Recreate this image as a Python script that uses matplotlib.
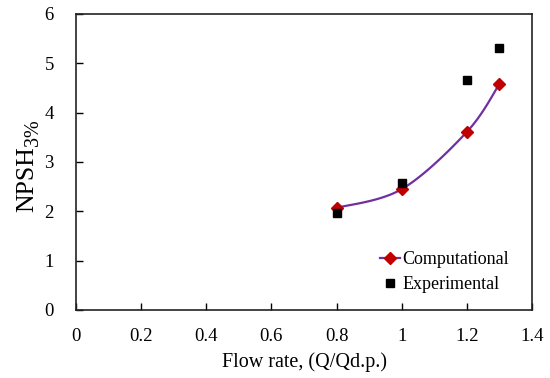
import numpy as np
import matplotlib
matplotlib.use("Agg")
import matplotlib.pyplot as plt
from matplotlib.lines import Line2D

plt.rcParams['font.family'] = ['Liberation Serif', 'DejaVu Serif']

flow_comp = [0.8, 1.0, 1.2, 1.3]
npsh_comp = [2.07, 2.45, 3.61, 4.58]
flow_exp = [0.8, 1.0, 1.2, 1.3]
npsh_exp = [1.97, 2.58, 4.66, 5.31]
xticks = [0, 0.2, 0.4, 0.6, 0.8, 1.0, 1.2, 1.4]
xticklabels = ["0", "0.2", "0.4", "0.6", "0.8", "1", "1.2", "1.4"]
yticks = [0, 1, 2, 3, 4, 5, 6]

W, H = 550, 378


def excel_smooth(x, y, n=40):
    """Bezier smoothing similar to a spreadsheet 'smoothed line'."""
    P = np.column_stack([x, y]).astype(float)
    Pe = np.vstack([P[0], P, P[-1]])
    t = np.linspace(0, 1, n)[:, None]
    segs = []
    for i in range(1, len(Pe) - 2):
        p0, p1 = Pe[i], Pe[i + 1]
        c1 = p0 + (Pe[i + 1] - Pe[i - 1]) / 6
        c2 = p1 - (Pe[i + 2] - Pe[i]) / 6
        segs.append((1 - t) ** 3 * p0 + 3 * (1 - t) ** 2 * t * c1 + 3 * (1 - t) * t ** 2 * c2 + t ** 3 * p1)
    pts = np.vstack(segs)
    return pts[:, 0], pts[:, 1]


fig = plt.figure(figsize=(W / 100, H / 100), dpi=100)
ax = fig.add_axes([76 / W, (H - 310) / H, (532 - 76) / W, (310 - 14) / H])

sx, sy = excel_smooth(flow_comp, npsh_comp)
ax.plot(sx, sy, color='#7030A0', lw=1.6, zorder=2)
ax.plot(flow_comp, npsh_comp, ls='none', marker='D', color='#C00000', ms=6, zorder=3)
ax.plot(flow_exp, npsh_exp, ls='none', marker='s', color='black', ms=6, zorder=4)

ax.set_xlim(0, 1.4)
ax.set_ylim(0, 6)
ax.set_xticks(xticks)
ax.set_xticklabels(xticklabels)
ax.set_yticks(yticks)
ax.tick_params(direction='in', length=5, width=1, labelsize=13.5, colors='black')
ax.tick_params(axis='x', pad=13)
ax.tick_params(axis='y', pad=16)
for s in ax.spines.values():
    s.set_linewidth(1.2)
    s.set_color('#222222')

ax.set_xlabel('Flow rate, (Q/Qd.p.)', fontsize=14.5, labelpad=5)

# y label: "NPSH" with a large subscript "3%"
t1 = fig.text(33 / W, (H - 212) / H, 'NPSH', rotation=90, rotation_mode='anchor',
              ha='left', va='baseline', fontsize=18.5)
fig.canvas.draw()
bb = t1.get_window_extent(renderer=fig.canvas.get_renderer())
fig.text(38 / W, bb.y1 / H, '3%', rotation=90, rotation_mode='anchor',
         ha='left', va='baseline', fontsize=14.5)

handles = [
    Line2D([], [], color='#7030A0', lw=1.6, marker='D', mfc='#C00000', mec='#C00000', ms=6),
    Line2D([], [], ls='none', marker='s', color='black', ms=6),
]
ax.legend(handles, ['Computational', 'Experimental'], loc='upper left', frameon=False,
          fontsize=13, handlelength=1.1, handletextpad=0.15, borderaxespad=0, borderpad=0,
          labelspacing=0.45, bbox_to_anchor=((380 - 76) / 456, (310 - 251) / 296))

fig.savefig('out.png', dpi=100)
